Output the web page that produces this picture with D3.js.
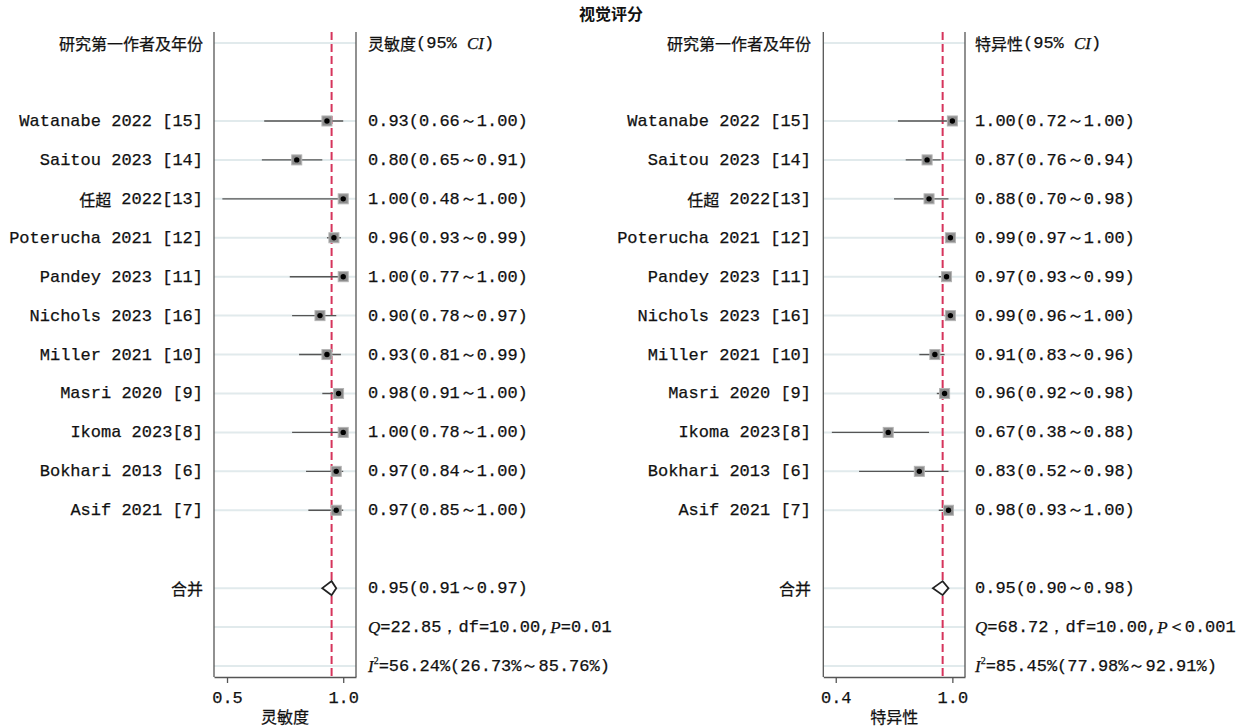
<!DOCTYPE html>
<html>
<head>
<meta charset="utf-8">
<script src="https://cdn.jsdelivr.net/npm/d3@7/dist/d3.min.js"></script>
<style>
  html, body { margin: 0; padding: 0; background: #fff; }
  svg { display: block; }
</style>
</head>
<body>
<svg id="chart" width="1244" height="727"></svg>
<script>
// Study labels, top to bottom
const studies = [
  "Watanabe 2022 [15]", "Saitou 2023 [14]", "任超 2022[13]", "Poterucha 2021 [12]",
  "Pandey 2023 [11]", "Nichols 2023 [16]", "Miller 2021 [10]", "Masri 2020 [9]",
  "Ikoma 2023[8]", "Bokhari 2013 [6]", "Asif 2021 [7]"
];

// Sensitivity per study with 95% CI
const sensEst = [0.93, 0.80, 1.00, 0.96, 1.00, 0.90, 0.93, 0.98, 1.00, 0.97, 0.97];
const sensLo  = [0.66, 0.65, 0.48, 0.93, 0.77, 0.78, 0.81, 0.91, 0.78, 0.84, 0.85];
const sensHi  = [1.00, 0.91, 1.00, 0.99, 1.00, 0.97, 0.99, 1.00, 1.00, 1.00, 1.00];
const sensPooled = [0.95, 0.91, 0.97];            // estimate, lower, upper
const sensHet = [22.85, 10.00, "=0.01", 56.24, 26.73, 85.76]; // Q, df, P, I2, I2 lower, I2 upper

// Specificity per study with 95% CI
const specEst = [1.00, 0.87, 0.88, 0.99, 0.97, 0.99, 0.91, 0.96, 0.67, 0.83, 0.98];
const specLo  = [0.72, 0.76, 0.70, 0.97, 0.93, 0.96, 0.83, 0.92, 0.38, 0.52, 0.93];
const specHi  = [1.00, 0.94, 0.98, 1.00, 0.99, 1.00, 0.96, 0.98, 0.88, 0.98, 1.00];
const specPooled = [0.95, 0.90, 0.98];
const specHet = [68.72, 10.00, "＜0.001", 85.45, 77.98, 92.91];

// Axis ticks
const sensTicks = [0.5, 1.0];
const specTicks = [0.4, 1.0];

const chartTitle = "视觉评分";
const studyHeader = "研究第一作者及年份";
const pooledLabel = "合并";

const svg = d3.select("#chart");

const MONO = "'Liberation Mono', 'DejaVu Sans Mono', monospace";
const CJK = "'Noto Sans CJK SC', sans-serif";
const SERIF = "'Liberation Serif', serif";

// Row layout: 0 header, 2..12 studies, 14 pooled, 15 Q, 16 I²
const rowY = d3.scaleLinear().domain([0, 16]).range([43.1, 666]);
const boxTop = 32, boxBottom = 677;

const f2 = d3.format(".2f");
const ciText = (e, l, h) => `${f2(e)}(${f2(l)}～${f2(h)})`;

// Split a plain string into Han / non-Han runs so each gets its own font
function runs(str) {
  const out = [];
  for (const ch of str) {
    const han = /[\u4e00-\u9fff]/.test(ch);
    if (out.length && out[out.length - 1].han === han) out[out.length - 1].t += ch;
    else out.push({ t: ch, han });
  }
  return out;
}

// Draw rich text: segments [{t, italic, sup}] ; plain segments split into Han/Latin runs
function richText(g, x, y, segs, anchor) {
  const text = g.append("text")
    .attr("x", x).attr("y", y)
    .attr("text-anchor", anchor || "start")
    .attr("dominant-baseline", "central")
    .attr("fill", "#111")
    .attr("stroke", "#111").attr("stroke-width", 0.25);
  let shift = 0; // pending baseline shift to undo after a superscript
  segs.forEach(s => {
    if (s.italic) {
      text.append("tspan").attr("font-family", SERIF).attr("font-style", "italic")
        .attr("font-size", 17).attr("dy", shift || null).text(s.t);
      shift = 0;
    } else if (s.sup) {
      text.append("tspan").attr("font-family", SERIF).attr("font-size", 10)
        .attr("dy", -6).text(s.t);
      shift = 6;
    } else {
      runs(s.t).forEach(r => {
        text.append("tspan")
          .attr("font-family", r.han ? CJK : MONO)
          .attr("font-size", r.han ? 16 : 17)
          .attr("dy", shift || null)
          .text(r.t);
        shift = 0;
      });
    }
  });
  return text;
}

// Title
svg.append("text")
  .attr("x", 611).attr("y", 13)
  .attr("text-anchor", "middle").attr("dominant-baseline", "central")
  .attr("font-family", CJK).attr("font-size", 16).attr("font-weight", "bold")
  .attr("fill", "#111")
  .text(chartTitle);

const panels = [
  { name: "灵敏度", est: sensEst, lo: sensLo, hi: sensHi, pooled: sensPooled, het: sensHet,
    ticks: sensTicks, labelRight: 203, boxL: 214, boxR: 356, domain: [0.444, 1.055], textX: 368 },
  { name: "特异性", est: specEst, lo: specLo, hi: specHi, pooled: specPooled, het: specHet,
    ticks: specTicks, labelRight: 811, boxL: 823.3, boxR: 965, domain: [0.336, 1.065], textX: 975 }
];

panels.forEach(p => {
  const g = svg.append("g");
  const x = d3.scaleLinear().domain(p.domain).range([p.boxL, p.boxR]);

  // light row guides
  const gridRows = [0].concat(d3.range(2, 2 + studies.length), [14, 15, 16]);
  g.selectAll(".grid").data(gridRows).join("line")
    .attr("x1", p.boxL).attr("x2", p.boxR)
    .attr("y1", d => rowY(d)).attr("y2", d => rowY(d))
    .attr("stroke", "#e1eaec").attr("stroke-width", 2);

  // frame sides
  [p.boxL, p.boxR].forEach(xx => {
    g.append("line").attr("x1", xx).attr("x2", xx)
      .attr("y1", boxTop).attr("y2", boxBottom)
      .attr("stroke", "#555").attr("stroke-width", 1.3);
  });

  // bottom axis
  const axis = d3.axisBottom(x).tickValues(p.ticks).tickFormat(d3.format(".1f"))
    .tickSize(6).tickSizeOuter(0).tickPadding(8);
  const ax = g.append("g").attr("transform", `translate(0,${boxBottom})`).call(axis);
  ax.select(".domain").attr("stroke", "#555").attr("stroke-width", 1.3);
  ax.selectAll(".tick line").attr("stroke", "#555").attr("stroke-width", 1.3);
  ax.selectAll(".tick text").attr("font-family", MONO).attr("font-size", 17).attr("fill", "#111")
    .attr("stroke", "#111").attr("stroke-width", 0.25);

  svg.append("text")
    .attr("x", (p.boxL + p.boxR) / 2).attr("y", 716)
    .attr("text-anchor", "middle").attr("dominant-baseline", "central")
    .attr("font-family", CJK).attr("font-size", 16).attr("fill", "#111")
    .attr("stroke", "#111").attr("stroke-width", 0.25)
    .text(p.name);

  // pooled reference line
  g.append("line")
    .attr("x1", x(p.pooled[0])).attr("x2", x(p.pooled[0]))
    .attr("y1", boxTop).attr("y2", boxBottom)
    .attr("stroke", "#d6345c").attr("stroke-width", 2)
    .attr("stroke-dasharray", "8,4");

  // study CIs and markers
  const idx = d3.range(studies.length);
  g.selectAll(".ci").data(idx).join("line")
    .attr("x1", i => x(p.lo[i])).attr("x2", i => x(p.hi[i]))
    .attr("y1", i => rowY(i + 2)).attr("y2", i => rowY(i + 2))
    .attr("stroke", "#555").attr("stroke-width", 1.4);
  g.selectAll(".box").data(idx).join("rect")
    .attr("x", i => x(p.est[i]) - 5).attr("y", i => rowY(i + 2) - 5)
    .attr("width", 10).attr("height", 10)
    .attr("fill", "#8c8c8c").attr("stroke", "#b4b4b4").attr("stroke-width", 1);
  g.selectAll(".dot").data(idx).join("circle")
    .attr("cx", i => x(p.est[i])).attr("cy", i => rowY(i + 2))
    .attr("r", 2.7).attr("fill", "#000");

  // pooled diamond
  const py = rowY(14);
  g.append("path")
    .attr("d", `M${x(p.pooled[1])},${py} L${x(p.pooled[0])},${py - 7} L${x(p.pooled[2])},${py} L${x(p.pooled[0])},${py + 7} Z`)
    .attr("fill", "#fff").attr("stroke", "#222").attr("stroke-width", 1.8);

  // left labels
  richText(svg, p.labelRight, rowY(0), [{ t: studyHeader }], "end");
  studies.forEach((s, i) => richText(svg, p.labelRight, rowY(i + 2), [{ t: s }], "end"));
  richText(svg, p.labelRight, rowY(14), [{ t: pooledLabel }], "end");

  // right column text
  richText(svg, p.textX, rowY(0), [{ t: p.name + "(95% " }, { t: "CI", italic: true }, { t: ")" }]);
  idx.forEach(i => richText(svg, p.textX, rowY(i + 2), [{ t: ciText(p.est[i], p.lo[i], p.hi[i]) }]));
  richText(svg, p.textX, rowY(14), [{ t: ciText(p.pooled[0], p.pooled[1], p.pooled[2]) }]);
  const h = p.het;
  richText(svg, p.textX, rowY(15), [
    { t: "Q", italic: true }, { t: `=${f2(h[0])}，df=${f2(h[1])},` },
    { t: "P", italic: true }, { t: h[2] }
  ]);
  richText(svg, p.textX, rowY(16), [
    { t: "I", italic: true }, { t: "2", sup: true },
    { t: `=${f2(h[3])}%(${f2(h[4])}%～${f2(h[5])}%)` }
  ]);
});
</script>
</body>
</html>
